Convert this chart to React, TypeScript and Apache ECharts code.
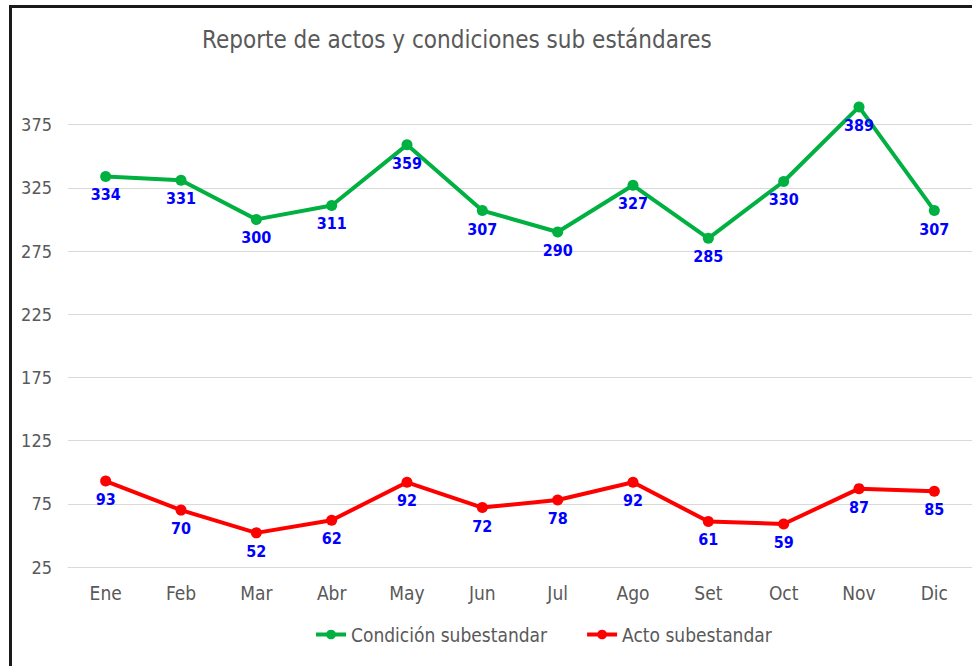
import React, { useEffect, useRef } from "react";
import * as echarts from "echarts";

const months = ["Ene", "Feb", "Mar", "Abr", "May", "Jun", "Jul", "Ago", "Set", "Oct", "Nov", "Dic"];
const condicion = [334, 331, 300, 311, 359, 307, 290, 327, 285, 330, 389, 307];
const acto = [93, 70, 52, 62, 92, 72, 78, 92, 61, 59, 87, 85];
const seriesNames = ["Condición subestandar", "Acto subestandar"];
const titleText = "Reporte de actos y condiciones sub estándares";

const FONT = "'Liberation Sans Narrow', 'Arial Narrow', 'DejaVu Sans Condensed', 'Liberation Sans', sans-serif";

export default function App() {
  const ref = useRef<HTMLDivElement>(null);
  useEffect(() => {
    if (!ref.current) return;
    const chart = echarts.init(ref.current, undefined, { renderer: "svg" });
    const label = {
      show: true,
      position: "bottom" as const,
      distance: 5,
      color: "#0000FF",
      fontWeight: "bold" as const,
      fontSize: 16,
      fontFamily: FONT,
    };
    chart.setOption({
      animation: false,
      backgroundColor: "#ffffff",
      textStyle: { fontFamily: FONT },
      title: {
        text: titleText,
        left: 197,
        top: 23,
        textStyle: { fontSize: 24, fontWeight: "normal", color: "#595959", fontFamily: FONT },
      },
      legend: {
        bottom: 17,
        left: 309,
        itemWidth: 30,
        itemHeight: 12,
        itemGap: 38,
        itemStyle: { borderWidth: 0 },
        lineStyle: { width: 4 },
        textStyle: { fontSize: 19, color: "#595959", fontFamily: FONT },
        data: seriesNames,
      },
      grid: { left: 68, right: -3, top: 61.4, height: 505.6, containLabel: false },
      xAxis: {
        type: "category",
        data: months,
        boundaryGap: true,
        axisLine: { lineStyle: { color: "#d9d9d9", width: 1 } },
        axisTick: { show: false },
        axisLabel: { fontSize: 19, color: "#595959", margin: 16, fontFamily: FONT },
      },
      yAxis: {
        type: "value",
        min: 25,
        max: 425,
        interval: 50,
        axisLine: { show: false },
        axisTick: { show: false },
        axisLabel: {
          fontSize: 18,
          color: "#595959",
          margin: 16,
          fontFamily: FONT,
          formatter: (v: number) => (v === 425 ? "" : String(v)),
        },
        splitLine: {
          lineStyle: {
            color: ["#d9d9d9", "#d9d9d9", "#d9d9d9", "#d9d9d9", "#d9d9d9", "#d9d9d9", "#d9d9d9", "#d9d9d9", "rgba(0,0,0,0)"],
            width: 1,
          },
        },
      },
      series: [
        {
          name: seriesNames[0],
          type: "line",
          data: condicion,
          symbol: "circle",
          symbolSize: 11,
          itemStyle: { color: "#00B040" },
          lineStyle: { color: "#00B040", width: 4 },
          label,
        },
        {
          name: seriesNames[1],
          type: "line",
          data: acto,
          symbol: "circle",
          symbolSize: 11,
          itemStyle: { color: "#FF0000" },
          lineStyle: { color: "#FF0000", width: 4 },
          label,
        },
      ],
    });
    return () => chart.dispose();
  }, []);
  return (
    <div style={{ position: "fixed", left: 0, top: 0, width: 972, height: 666, background: "#fff" }}>
      <div ref={ref} style={{ position: "absolute", left: 0, top: 0, width: 972, height: 666 }} />
      <div
        style={{
          position: "absolute",
          left: 9,
          top: 5,
          width: 980,
          height: 700,
          borderLeft: "3px solid #1a1a1a",
          borderTop: "3px solid #1a1a1a",
          pointerEvents: "none",
        }}
      />
    </div>
  );
}
